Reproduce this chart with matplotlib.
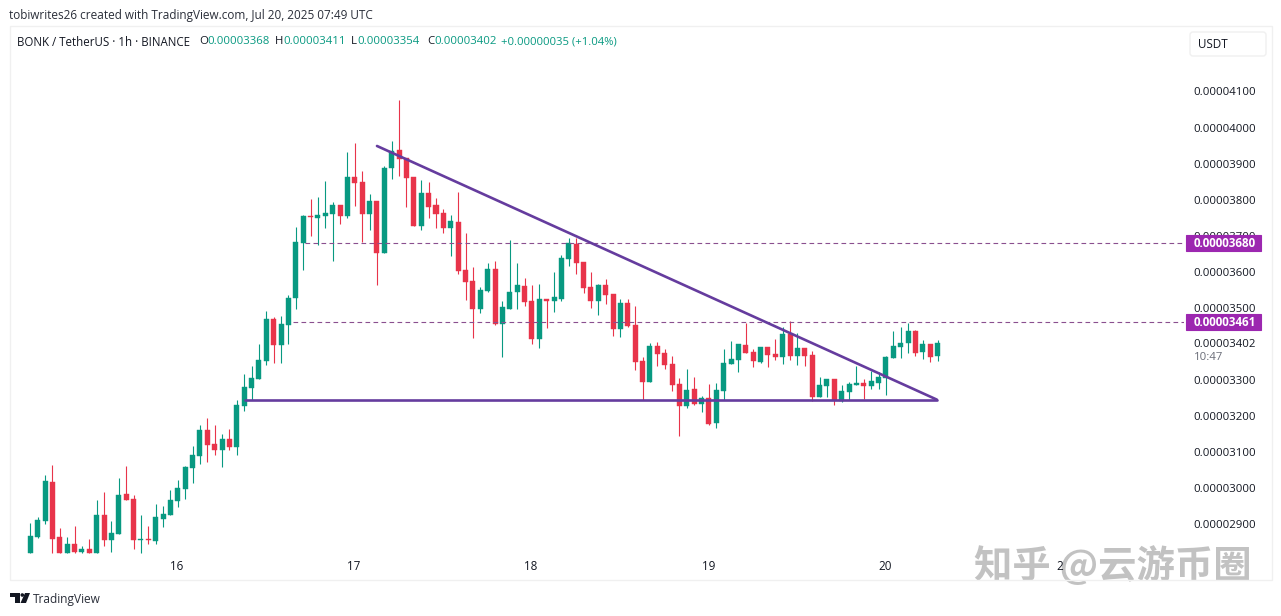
import numpy as np
import matplotlib
matplotlib.use("Agg")
import matplotlib.pyplot as plt
from matplotlib.patches import Rectangle, FancyBboxPatch, Polygon, Circle
from matplotlib.transforms import blended_transform_factory

# prices in units of 1e-8 USDT, one candle per hour
opens = [2822, 2865, 2910, 3017, 2865, 2822, 2846, 2824, 2832, 2822, 2926, 2857, 2873, 2984, 2971, 2858,
         2860, 2854, 2915, 2926, 2965, 2998, 3056, 3090, 3162, 3123, 3106, 3137, 3115, 3228, 3278, 3303,
         3353, 3469, 3397, 3453, 3527, 3680, 3755, 3749, 3755, 3760, 3785, 3755, 3863, 3849, 3760, 3796,
         3653, 3888, 3937, 3916, 3863, 3727, 3819, 3785, 3763, 3722, 3738, 3605, 3575, 3497, 3547, 3608,
         3455, 3497, 3544, 3561, 3519, 3414, 3525, 3519, 3525, 3636, 3677, 3627, 3558, 3519, 3564, 3539,
         3442, 3514, 3453, 3353, 3295, 3395, 3375, 3345, 3289, 3228, 3275, 3234, 3250, 3181, 3270, 3345,
         3356, 3397, 3378, 3350, 3392, 3372, 3364, 3428, 3367, 3389, 3370, 3253, 3284, 3303, 3242, 3267,
         3286, 3292, 3284, 3292, 3306, 3361, 3392, 3403, 3436, 3378, 3400, 3368]
highs = [2904, 2922, 3037, 3064, 2889, 2865, 2896, 2840, 2860, 2968, 2989, 2909, 3029, 3062, 2982, 2926,
         2896, 2957, 2951, 2996, 3023, 3062, 3117, 3176, 3195, 3176, 3151, 3165, 3245, 3317, 3339, 3400,
         3491, 3475, 3478, 3536, 3724, 3758, 3802, 3807, 3852, 3794, 3785, 3932, 3957, 3879, 3816, 3796,
         3893, 3963, 4076, 3916, 3863, 3855, 3849, 3805, 3774, 3758, 3821, 3708, 3613, 3558, 3624, 3630,
         3519, 3688, 3624, 3583, 3564, 3566, 3525, 3600, 3647, 3694, 3694, 3627, 3600, 3566, 3580, 3539,
         3525, 3525, 3505, 3364, 3403, 3406, 3386, 3367, 3306, 3331, 3309, 3256, 3289, 3292, 3386, 3408,
         3400, 3458, 3386, 3392, 3392, 3414, 3447, 3464, 3431, 3389, 3381, 3309, 3303, 3303, 3286, 3295,
         3339, 3303, 3325, 3323, 3367, 3436, 3447, 3458, 3439, 3411, 3400, 3411]
lows = [2822, 2863, 2902, 2822, 2822, 2822, 2822, 2822, 2822, 2822, 2840, 2824, 2873, 2968, 2832, 2822,
        2846, 2846, 2894, 2926, 2948, 2971, 3015, 3067, 3073, 3092, 3059, 3106, 3092, 3214, 3245, 3303,
        3342, 3347, 3347, 3400, 3497, 3605, 3699, 3674, 3722, 3630, 3733, 3749, 3782, 3683, 3716, 3563,
        3653, 3857, 3866, 3780, 3727, 3716, 3749, 3722, 3708, 3644, 3594, 3522, 3417, 3486, 3544, 3453,
        3364, 3497, 3497, 3505, 3400, 3389, 3445, 3489, 3519, 3616, 3594, 3541, 3500, 3480, 3511, 3422,
        3420, 3447, 3328, 3245, 3295, 3339, 3331, 3270, 3145, 3223, 3231, 3212, 3176, 3167, 3245, 3345,
        3323, 3375, 3336, 3347, 3336, 3356, 3345, 3356, 3342, 3339, 3242, 3253, 3253, 3231, 3239, 3245,
        3286, 3248, 3275, 3275, 3259, 3361, 3361, 3375, 3367, 3359, 3350, 3354]
closes = [2868, 2912, 3020, 2860, 2822, 2846, 2824, 2832, 2822, 2926, 2857, 2876, 2982, 2968, 2857, 2860,
          2858, 2921, 2929, 2968, 3001, 3059, 3092, 3162, 3120, 3106, 3137, 3115, 3231, 3281, 3306, 3356,
          3469, 3397, 3455, 3527, 3683, 3755, 3752, 3758, 3763, 3785, 3755, 3863, 3846, 3760, 3796, 3653,
          3888, 3935, 3913, 3860, 3727, 3819, 3780, 3760, 3722, 3741, 3602, 3572, 3497, 3550, 3608, 3455,
          3503, 3544, 3563, 3516, 3414, 3525, 3519, 3530, 3639, 3680, 3625, 3555, 3519, 3564, 3536, 3442,
          3514, 3450, 3350, 3295, 3395, 3372, 3342, 3286, 3228, 3273, 3234, 3250, 3178, 3273, 3348, 3359,
          3400, 3375, 3353, 3392, 3370, 3364, 3428, 3367, 3389, 3367, 3253, 3286, 3303, 3245, 3270, 3289,
          3292, 3284, 3298, 3309, 3364, 3395, 3403, 3436, 3375, 3400, 3364, 3402]

price_ticks = [2900, 3000, 3100, 3200, 3300, 3402, 3500, 3600, 3700, 3800, 3900, 4000, 4100]
day_ticks = [19.9, 43.9, 67.9, 91.9, 115.9, 139.5]
day_labels = ["16", "17", "18", "19", "20", "2"]
levels = [3680, 3461]
level_starts = [37.2, 35.6]
trend_x = [47.0, 122.9]
trend_y = [3949, 3246]
base_x = [29.1, 122.9]
base_y = [3246, 3246]

W, H = 1281, 616
GREEN = "#089981"
RED = "#e8344a"
PURPLE = "#653c9e"
TAG = "#9c27b0"
DARK = "#131722"

plt.rcParams["font.family"] = ["Open Sans", "DejaVu Sans"]

fig = plt.figure(figsize=(W / 100, H / 100), dpi=100, facecolor="white")
# main pane, pixels x 10..1184, y 26..555
ax = fig.add_axes([10 / W, 1 - 555 / H, 1174 / W, 529 / H])
ax.set_xlim(-2.75, 156.4)
ax.set_ylim(2815.4, 4281.5)
for s in ax.spines.values():
    s.set_visible(False)

x = np.arange(len(opens))
o, h, l, c = map(np.array, (opens, highs, lows, closes))
colors = np.where(c >= o, GREEN, RED)
ax.vlines(x, l, h, colors=colors, linewidth=0.8, zorder=2)
ax.bar(x, np.abs(c - o), bottom=np.minimum(o, c), width=0.68, color=colors, linewidth=0.3,
       edgecolor=colors, zorder=3)

for lev, start in zip(levels, level_starts):
    ax.plot([start, 156.4], [lev, lev], color="#8a4f8f", lw=0.8, dashes=(4.2, 3), zorder=4)
ax.plot(trend_x, trend_y, color=PURPLE, lw=1.9, solid_capstyle="round", zorder=5)
ax.plot(base_x, base_y, color=PURPLE, lw=1.9, solid_capstyle="round", zorder=5)

ax.yaxis.tick_right()
ax.set_yticks(price_ticks)
ax.set_yticklabels([f"{p * 1e-8:.8f}" for p in price_ticks], fontsize=8.2, color=DARK)
ax.tick_params(axis="y", length=0, pad=7)
ax.set_xticks(day_ticks)
ax.set_xticklabels(day_labels, fontsize=8.4, color=DARK)
ax.tick_params(axis="x", length=0, pad=3.5)

# page furniture in pixel coordinates
top = fig.add_axes([0, 0, 1, 1], zorder=10)
top.set_xlim(0, W)
top.set_ylim(H, 0)
top.axis("off")
top.patch.set_alpha(0)

top.add_patch(Rectangle((10, 26), 1262, 554, fill=False, ec="#f0f0f0", lw=1))
top.add_patch(FancyBboxPatch((1190, 32), 76, 24, boxstyle="round,pad=0,rounding_size=3",
                             fc="white", ec="#f0f0f0", lw=1))
top.text(1198, 44.5, "USDT", fontsize=8.4, color=DARK, va="center")

top.text(9, 15, "tobiwrites26 created with TradingView.com, Jul 20, 2025 07:49 UTC", fontsize=8.5,
         color="#2a2e39", va="center")
top.text(17, 42, "BONK / TetherUS · 1h · BINANCE", fontsize=8.3, color=DARK, va="center")
for px, key, val in [(199, "O", "0.00003368"), (275, "H", "0.00003411"),
                     (351, "L", "0.00003354"), (427, "C", "0.00003402")]:
    t = top.text(px, 42, key, fontsize=8.2, color=DARK, va="center")
    top.annotate(val, xy=(1, 0.5), xycoords=t, va="center", fontsize=8.2, color=GREEN)
top.text(501, 42, "+0.00000035 (+1.04%)", fontsize=8.15, color=GREEN, va="center")

# price tags follow the price scale
tag_tr = blended_transform_factory(top.transData, ax.transData)
for lev in levels:
    top.add_patch(FancyBboxPatch((1186, lev - 23), 75, 46, boxstyle="square,pad=0", fc=TAG, ec=TAG, lw=0.8,
                                 transform=tag_tr))
    top.text(1193.5, lev, f"{lev * 1e-8:.8f}", transform=tag_tr, fontsize=8.4, color="white",
             fontweight="bold", va="center")
top.text(1194, 357, "10:47", fontsize=8.2, color="#6a6d78", va="center")

top.text(33, 599, "TradingView", fontsize=8.6, color="#2a2e39", va="center")
top.add_patch(Polygon([(10, 593), (19.5, 593), (19.5, 603), (14.5, 603), (14.5, 596.5), (10, 596.5)],
                      fc="#131722", ec="none"))
top.add_patch(Circle((22.3, 595), 1.8, fc="#131722", ec="none"))
top.add_patch(Polygon([(25, 593), (30, 593), (26, 603), (20.5, 603)], fc="#131722", ec="none"))

# watermark sits under the time labels
ax.text(974, 566, "知乎 @云游币圈", transform=top.transData, fontsize=27.6, color="#c2c2c2", va="center",
        fontweight="bold", family=["Noto Sans CJK SC", "DejaVu Sans"], zorder=1, clip_on=False)

fig.savefig("out.png", dpi=100)
